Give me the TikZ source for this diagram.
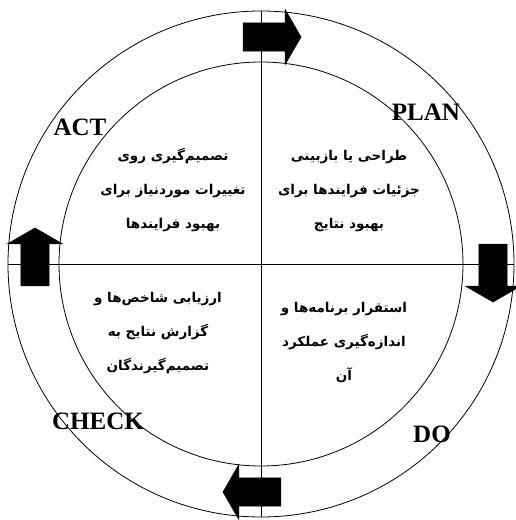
\documentclass[tikz,border=0pt]{standalone}
\usepackage{fontspec}
\setmainfont{Liberation Serif}
\newfontfamily\farsi[Script=Arabic]{DejaVu Sans}
\TeXXeTstate=1
\usetikzlibrary{shapes.arrows, positioning}

\newcommand{\fa}[1]{\beginR#1\endR}

\begin{document}
\begin{tikzpicture}[
x=1pt, y=1pt,
ring/.style={circle, draw, line width=0.8pt, inner sep=0pt},
axis/.style={line width=0.7pt},
bigarrow/.style={single arrow, fill=black, draw=black, inner xsep=0pt, inner ysep=14pt,
  minimum height=58pt, minimum width=55pt,
  single arrow head extend=13.5pt, single arrow tip angle=120},
phase/.style={font=\fontsize{25}{26}\selectfont\bfseries},
farsitext/.style={align=center, font=\farsi\bfseries\fontsize{13.5}{34}\selectfont}
]
\useasboundingbox (-261,-256) rectangle (254,264);

% CIRCULOS
\node (outer) [ring, minimum size=506pt] at (0,0) {};
\node (inner) [ring, minimum size=404pt] at (0,0) {};

% EJES
\draw[axis] (outer.north) -- (outer.south);
\draw[axis] (outer.west) -- (outer.east);

% FLECHAS
\node (toPlan) [bigarrow] at (7,227) {};
\node (toDo) [bigarrow, rotate=-90] at (232,-5) {};
\node (toCheck) [bigarrow, rotate=180] at (-5,-228) {};
\node (toAct) [bigarrow, rotate=90] at (-226,3) {};

% ETAPAS
\node (plan) [phase] at (165,152) {PLAN};
\node (do) [phase] at (171,-170) {DO};
\node (check) [phase] at (-163,-157) {CHECK};
\node (act) [phase] at (-181,137) {ACT};

% TEXTOS
\node (planText) [farsitext] at (88,73) {\fa{طراحی یا بازبینی}\\\fa{جزئیات فرایندها برای}\\\fa{بهبود نتایج}};
\node (doText) [farsitext] at (83,-78) {\fa{استقرار برنامه‌ها و}\\\fa{اندازه‌گیری عملکرد}\\\fa{آن}};
\node (checkText) [farsitext] at (-103,-69) {\fa{ارزیابی شاخص‌ها و}\\\fa{گزارش نتایج به}\\\fa{تصمیم‌گیرندگان}};
\node (actText) [farsitext] at (-88,74) {\fa{تصمیم‌گیری روی}\\\fa{تغییرات موردنیاز برای}\\\fa{بهبود فرایندها}};

\end{tikzpicture}
\end{document}
